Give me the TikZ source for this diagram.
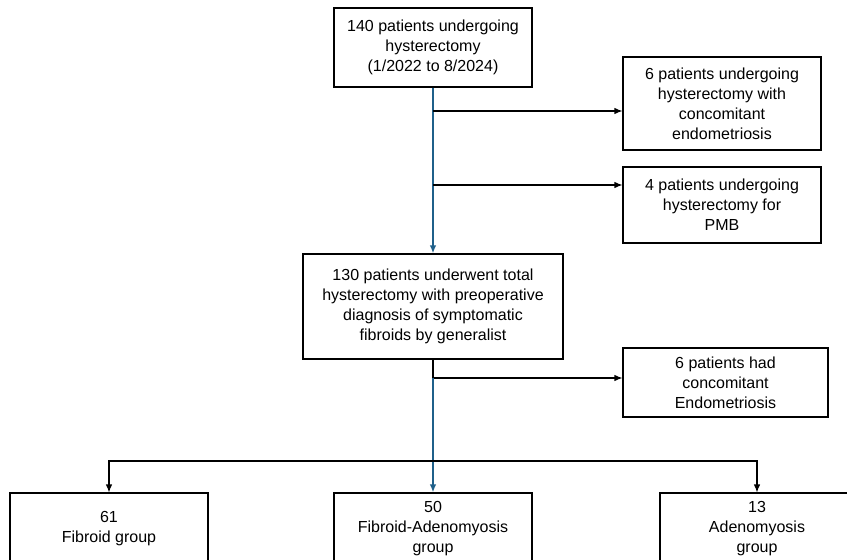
\documentclass[tikz,border=0pt]{standalone}
\usepackage{fontspec}
\setmainfont{Liberation Sans}
\usetikzlibrary{arrows.meta}
\definecolor{flowblue}{RGB}{31,96,138}
\begin{document}
\begin{tikzpicture}[x=1pt, y=-1pt, >={Latex[length=8pt,width=6.5pt]},
  box/.style={draw, rectangle, line width=1.1pt, align=center, inner sep=0pt,
    font=\fontsize{16}{20}\selectfont},
  line/.style={line width=1.1pt},
  bline/.style={line width=1.8pt, flowblue}]
\useasboundingbox (0,0) rectangle (847,560);
\clip (0,0) rectangle (847,560);

\node (top)[box, minimum width=198pt, minimum height=79pt] at (433,47.5) {140 patients undergoing\\hysterectomy\\(1/2022 to 8/2024)};
\node (excl1)[box, minimum width=198pt, minimum height=93pt] at (722,103.5) {6 patients undergoing\\hysterectomy with\\concomitant\\endometriosis};
\node (excl2)[box, minimum width=198pt, minimum height=76pt] at (722,205) {4 patients undergoing\\hysterectomy for\\PMB};
\node (mid)[box, minimum width=260pt, minimum height=105pt] at (433,306.5) {130 patients underwent total\\hysterectomy with preoperative\\diagnosis of symptomatic\\fibroids by generalist};
\node (excl3)[box, minimum width=205pt, minimum height=69pt] at (725.5,382.5) {6 patients had\\concomitant\\Endometriosis};
\node (fib)[box, minimum width=198pt, minimum height=72pt] at (109,529) {61\\Fibroid group};
\node (fibad)[box, minimum width=198pt, minimum height=72pt] at (433,529) {50\\Fibroid-Adenomyosis\\group};
\node (aden)[box, minimum width=194pt, minimum height=72pt] at (757,529) {13\\Adenomyosis\\group};

\coordinate (b1) at (433,111);
\coordinate (b2) at (433,185);
\coordinate (b3) at (433,378);
\coordinate (b4) at (433,461);

\draw[bline, ->](top.south)--(mid.north);
\draw[line, ->](b1)--(excl1.west |- b1);
\draw[line, ->](b2)--(excl2.west |- b2);
\draw[line](mid.south)--(b3);
\draw[line, ->](b3)--(excl3.west |- b3);
\draw[bline, ->](b3)--(fibad.north);
\draw[line, ->](b4)-|(fib.north);
\draw[line, ->](b4)-|(aden.north);
\end{tikzpicture}
\end{document}
